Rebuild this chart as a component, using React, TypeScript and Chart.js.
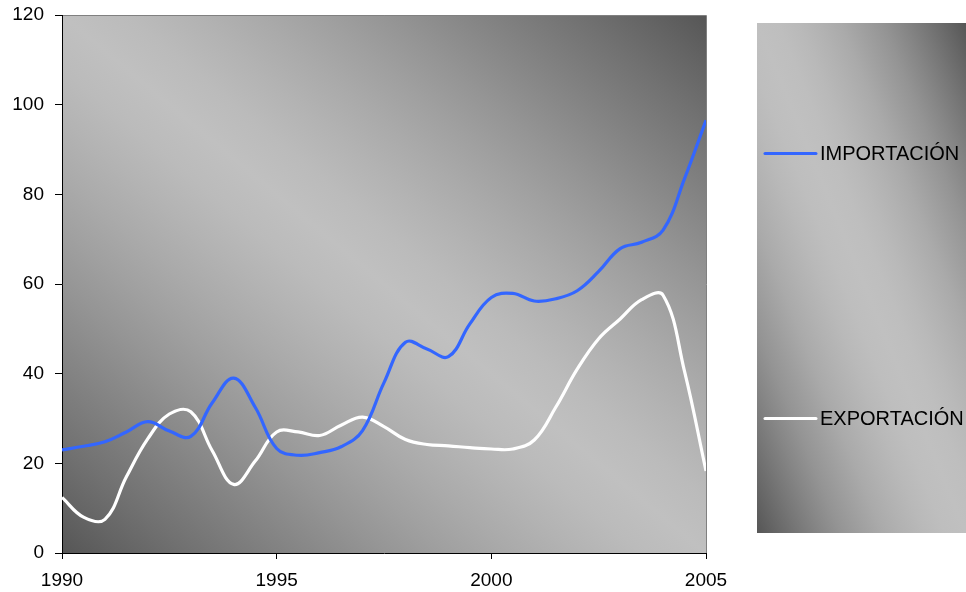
import React, { useEffect, useRef } from "react";
import { Chart, registerables } from "chart.js";

Chart.register(...registerables);

// Half-year periods
const periods = [
  1990, 1990.5, 1991, 1991.5, 1992, 1992.5, 1993, 1993.5, 1994, 1994.5,
  1995, 1995.5, 1996, 1996.5, 1997, 1997.5, 1998, 1998.5, 1999, 1999.5,
  2000, 2000.5, 2001, 2001.5, 2002, 2002.5, 2003, 2003.5, 2004, 2004.5, 2005,
];

const importacion = [
  23.0, 23.8, 24.8, 27.0, 29.3, 27.2, 26.0, 33.5, 39.0, 32.5,
  23.3, 21.8, 22.4, 23.7, 27.3, 38.0, 47.0, 45.5, 43.8, 51.1,
  57.0, 57.9, 56.2, 56.7, 58.5, 62.8, 67.9, 69.3, 72.0, 83.5, 96.5,
];

const exportacion = [
  12.4, 8.0, 7.5, 17.0, 25.5, 31.0, 31.5, 22.8, 15.3, 20.5,
  27.0, 27.0, 26.2, 28.5, 30.3, 28.2, 25.3, 24.2, 23.9, 23.5,
  23.2, 23.2, 25.2, 32.5, 41.0, 47.8, 52.2, 56.5, 57.5, 40.5, 18.3,
];

const seriesLabels = ["IMPORTACIÓN", "EXPORTACIÓN"];
const seriesColors = ["#3366FF", "#FFFFFF"];
const xTickLabels = ["1990", "1995", "2000", "2005"];

const FONT = "'Liberation Sans', Arial, sans-serif";

const LIGHT = 192;
const DARK = 86;

function diagGradient(
  ctx: CanvasRenderingContext2D,
  x: number,
  y: number,
  w: number,
  h: number,
  power: number
) {
  const L2 = w * w + h * h;
  const cx = x + w / 2;
  const cy = y + h / 2;
  const k = (w * h) / L2;
  const g = ctx.createLinearGradient(cx - k * h, cy + k * w, cx + k * h, cy - k * w);
  const steps = 20;
  for (let i = 0; i <= steps; i++) {
    const t = i / steps;
    const d = Math.abs(t - 0.5) / 0.5;
    const v = Math.round(LIGHT - (LIGHT - DARK) * Math.pow(d, power));
    g.addColorStop(t, `rgb(${v},${v},${v})`);
  }
  return g;
}

const backgroundPlugin = {
  id: "plotBackground",
  beforeDraw(chart: any) {
    const { ctx, chartArea } = chart;
    const { left, top, right, bottom } = chartArea;
    ctx.save();
    ctx.fillStyle = diagGradient(ctx, left, top, right - left, bottom - top, 1.3);
    ctx.fillRect(left, top, right - left, bottom - top);
    ctx.strokeStyle = "#808080";
    ctx.lineWidth = 1;
    ctx.beginPath();
    ctx.moveTo(left, top + 0.5);
    ctx.lineTo(right + 0.5, top + 0.5);
    ctx.lineTo(right + 0.5, bottom);
    ctx.stroke();
    ctx.restore();
  },
};

const legendPlugin = {
  id: "customLegend",
  afterDraw(chart: any) {
    const { ctx, chartArea, width } = chart;
    const bx = chartArea.right + 51;
    const by = 23;
    const bw = width - bx;
    const bh = 510;
    ctx.save();
    ctx.fillStyle = diagGradient(ctx, bx, by, bw, bh, 1.7);
    ctx.fillRect(bx, by, bw, bh);
    const rows = [0.255, 0.775];
    chart.data.datasets.forEach((ds: any, i: number) => {
      const yy = Math.round(by + bh * rows[i]) + 0.5;
      ctx.strokeStyle = ds.borderColor;
      ctx.lineWidth = 3;
      ctx.lineCap = "round";
      ctx.beginPath();
      ctx.moveTo(bx + 8, yy);
      ctx.lineTo(bx + 59, yy);
      ctx.stroke();
      ctx.fillStyle = "#000000";
      ctx.font = `20px ${FONT}`;
      ctx.textBaseline = "middle";
      ctx.textAlign = "left";
      ctx.fillText(ds.label, bx + 63, yy + 1);
    });
    ctx.restore();
  },
};

export default function App() {
  const canvasRef = useRef<HTMLCanvasElement | null>(null);

  useEffect(() => {
    if (!canvasRef.current) return;
    const chart = new Chart(canvasRef.current, {
      type: "line",
      data: {
        datasets: [
          {
            label: seriesLabels[0],
            data: periods.map((p, i) => ({ x: p, y: importacion[i] })),
            borderColor: seriesColors[0],
            borderWidth: 3.2,
            pointRadius: 0,
            tension: 0.4,
            fill: false,
          },
          {
            label: seriesLabels[1],
            data: periods.map((p, i) => ({ x: p, y: exportacion[i] })),
            borderColor: seriesColors[1],
            borderWidth: 3.2,
            pointRadius: 0,
            tension: 0.4,
            fill: false,
          },
        ],
      },
      options: {
        animation: false,
        responsive: false,
        devicePixelRatio: 1,
        layout: { padding: { left: 0, top: 15, right: 260, bottom: 0 } },
        plugins: {
          legend: { display: false },
          tooltip: { enabled: false },
        },
        scales: {
          x: {
            type: "linear",
            min: 1990,
            max: 2005,
            afterFit: (scale: any) => {
              scale.height = 39;
              scale.paddingLeft = 0;
              scale.paddingRight = 0;
            },
            afterBuildTicks: (scale: any) => {
              scale.ticks = xTickLabels.map((l) => ({ value: Number(l) }));
            },
            ticks: {
              color: "#000000",
              padding: 10,
              maxRotation: 0,
              font: { family: FONT, size: 19 },
              callback: (v: any) => {
                const s = String(v);
                return xTickLabels.includes(s) ? s : "";
              },
            },
            grid: {
              drawOnChartArea: false,
              drawTicks: true,
              tickLength: 6,
              color: "#000000",
            },
            border: { display: true, color: "#000000", width: 1 },
          },
          y: {
            min: 0,
            max: 120,
            afterFit: (scale: any) => {
              scale.width = 62;
              scale.paddingTop = 0;
              scale.paddingBottom = 0;
            },
            ticks: {
              stepSize: 20,
              color: "#000000",
              padding: 11,
              font: { family: FONT, size: 19 },
            },
            grid: {
              drawOnChartArea: false,
              drawTicks: true,
              tickLength: 7,
              color: "#000000",
            },
            border: { display: true, color: "#000000", width: 1 },
          },
        },
      },
      plugins: [backgroundPlugin, legendPlugin],
    } as any);
    return () => chart.destroy();
  }, []);

  return (
    <div style={{ position: "absolute", left: 0, top: 0, width: 966, height: 592, background: "#ffffff" }}>
      <canvas ref={canvasRef} width={966} height={592} style={{ width: 966, height: 592, display: "block" }} />
    </div>
  );
}
